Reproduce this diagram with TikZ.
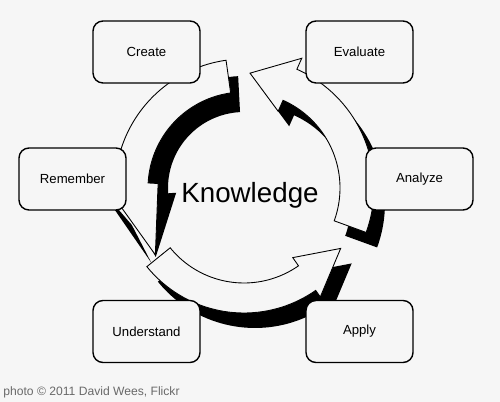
\documentclass[tikz,border=0pt]{standalone}
\usepackage{fontspec}
\setmainfont{Liberation Sans}

\definecolor{bgcol}{RGB}{246,246,246}
\definecolor{creditgray}{RGB}{105,105,105}

% ring arrow: tail angle, head angle, tip angle,
% inner/outer radius, inner/outer barb radius, tip radius
\newcommand{\ringarrow}[8]{
	plot[domain=#1:#2,samples=40] (\x:#5) -- (#2:#7) -- (#3:#8) -- (#2:#6)
	-- plot[domain=#2:#1,samples=40] (\x:#4) -- cycle
}

\begin{document}
\begin{tikzpicture}[x=0.02cm,y=0.02cm,
		stage/.style={draw,
			line width=0.8pt,
			rounded corners=2mm,
			fill=bgcol,
			minimum width=2.14cm,
			minimum height=1.24cm,
			font=\fontsize{7.5}{9}\selectfont},
		face/.style={draw, fill=bgcol, line width=0.5pt},
		side/.style={fill=black, shift={(11,-15)}}]
		\fill[bgcol] (0,0) rectangle (500,402);
		\useasboundingbox (0,0) rectangle (500,402);

		\coordinate (hub) at (244,214);

		% the three arrows round the ring
		\begin{scope}[shift={(hub)}]
			% left one shows its dark side on the inner rim
			\fill[black] \ringarrow{93}{184}{218}{76}{112}{68}{122}{112};
			\fill[black, shift={(-4,-8)}] (176:142) -- (217:111) -- (195:112) -- cycle;
			\draw[face] \ringarrow{98}{177}{217}{96}{129}{86}{142}{111};

			\fill[side] \ringarrow{-20}{66}{87}{96}{130}{84}{142}{115};
			\draw[face] \ringarrow{-20}{66}{87}{96}{130}{84}{142}{115};

			\fill[side] \ringarrow{219}{305}{328}{95}{125}{85}{133}{114};
			\draw[face] \ringarrow{219}{305}{328}{95}{125}{85}{133}{114};
		\end{scope}

		\node[stage] (create) at (146.5,350) {Create};
		\node[stage] (evaluate) at (359.5,350) {Evaluate};
		\node[stage] (remember) at (72.5,223) {Remember};
		\node[stage] (analyze) at (419.5,223) {Analyze};
		\node[stage] (understand) at (146.5,70.5) {Understand};
		\node[stage] (apply) at (359.5,70.5) {Apply};

		\node[anchor=base,
			font=\fontsize{15.8}{19}\selectfont
		] (knowledge) at (250,199) {Knowledge};

		\node[anchor=base west,
			inner sep=0pt,
			text=creditgray,
			font=\fontsize{6.9}{8}\selectfont
		] (credit) at (3,7) {photo © 2011 David Wees, Flickr};
	\end{tikzpicture}
\end{document}
